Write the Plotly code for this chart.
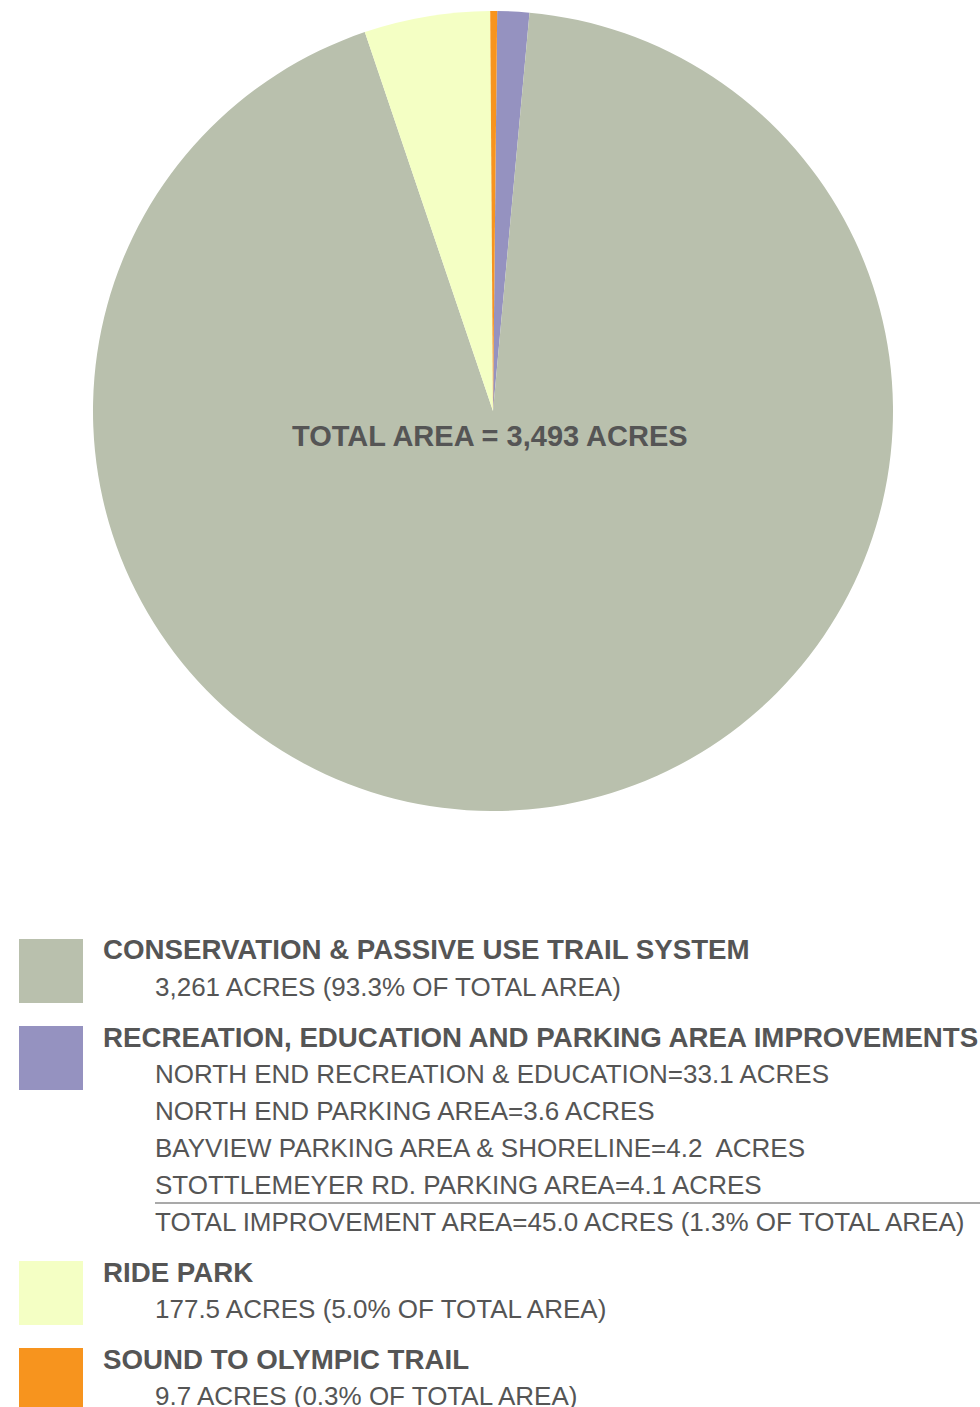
import plotly.graph_objects as go

W, H = 980, 1407

# data
categories = [
    "RECREATION, EDUCATION AND PARKING AREA IMPROVEMENTS",
    "CONSERVATION & PASSIVE USE TRAIL SYSTEM",
    "RIDE PARK",
    "SOUND TO OLYMPIC TRAIL",
]
acres = [45.0, 3261, 177.5, 9.7]
colors = ["#9592C0", "#B9C0AD", "#F4FFC4", "#F7941E"]
center_label = "TOTAL AREA = 3,493 ACRES"

# legend text blocks (top to bottom)
legend_heads = [
    "CONSERVATION & PASSIVE USE TRAIL SYSTEM",
    "RECREATION, EDUCATION AND PARKING AREA IMPROVEMENTS",
    "RIDE PARK",
    "SOUND TO OLYMPIC TRAIL",
]
legend_colors = ["#B9C0AD", "#9592C0", "#F4FFC4", "#F7941E"]
legend_lines = [
    ["3,261 ACRES (93.3% OF TOTAL AREA)"],
    ["NORTH END RECREATION & EDUCATION=33.1 ACRES",
     "NORTH END PARKING AREA=3.6 ACRES",
     "BAYVIEW PARKING AREA & SHORELINE=4.2  ACRES",
     "STOTTLEMEYER RD. PARKING AREA=4.1 ACRES",
     "TOTAL IMPROVEMENT AREA=45.0 ACRES (1.3% OF TOTAL AREA)"],
    ["177.5 ACRES (5.0% OF TOTAL AREA)"],
    ["9.7 ACRES (0.3% OF TOTAL AREA)"],
]


def px_x(x):
    return x / W


def px_y(y):
    return 1 - y / H


TXT = "#555555"
FAM = "Liberation Sans, Arial, sans-serif"
BOLD = dict(family=FAM, size=27.7, color=TXT)
LIGHT = dict(family=FAM, size=26, color=TXT)

fig = go.Figure(go.Pie(
    labels=categories,
    values=acres,
    marker=dict(colors=colors, line=dict(width=0)),
    sort=False,
    direction="clockwise",
    rotation=0.6,
    textinfo="none",
    hoverinfo="label+value+percent",
    domain=dict(x=[px_x(93), px_x(893)], y=[px_y(811), px_y(11)]),
    showlegend=False,
))

annotations = [dict(
    text="<b>" + center_label + "</b>", x=px_x(490), y=px_y(436),
    xref="paper", yref="paper", showarrow=False, xanchor="center", yanchor="middle",
    font=dict(family=FAM, size=29, color=TXT),
)]
shapes = []

box_tops = [939, 1026, 1261, 1348]
for head, col, lines, top in zip(legend_heads, legend_colors, legend_lines, box_tops):
    shapes.append(dict(type="rect", xref="paper", yref="paper",
                       x0=px_x(19), x1=px_x(83), y0=px_y(top + 64), y1=px_y(top),
                       fillcolor=col, line=dict(width=0)))
    annotations.append(dict(text="<b>" + head + "</b>", x=px_x(101), y=px_y(top + 11),
                            xref="paper", yref="paper", showarrow=False,
                            xanchor="left", yanchor="middle", font=BOLD))
    for i, line in enumerate(lines):
        annotations.append(dict(text=line, x=px_x(153), y=px_y(top + 48 + 37 * i),
                                xref="paper", yref="paper", showarrow=False,
                                xanchor="left", yanchor="middle", font=LIGHT))

# rule above the improvement total
shapes.append(dict(type="line", xref="paper", yref="paper",
                   x0=px_x(155), x1=1, y0=px_y(1203), y1=px_y(1203),
                   line=dict(color="#555555", width=1.2)))

fig.update_layout(
    width=W, height=H,
    margin=dict(l=0, r=0, t=0, b=0),
    paper_bgcolor="white",
    plot_bgcolor="white",
    annotations=annotations,
    shapes=shapes,
)

# drop the default 8px page margin so the figure fills the window
fig.write_html("out.html", config={"displayModeBar": False},
               post_script="document.body.style.margin='0px';")
